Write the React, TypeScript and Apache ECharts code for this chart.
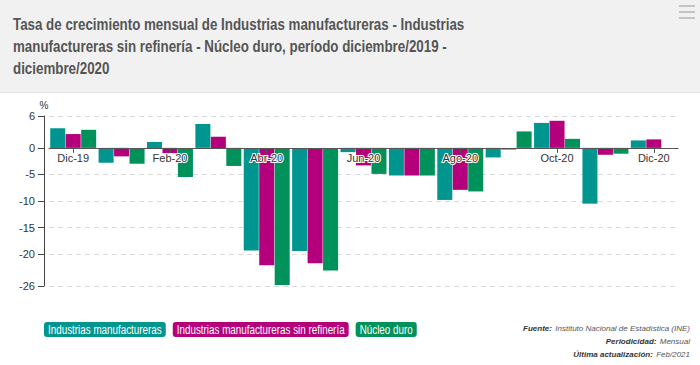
import React, { useEffect, useRef } from "react";
import * as echarts from "echarts";

const categories = ["Dic-19", "Ene-20", "Feb-20", "Mar-20", "Abr-20", "May-20", "Jun-20", "Jul-20", "Ago-20", "Sep-20", "Oct-20", "Nov-20", "Dic-20"];
const manufactureras = [3.7, -2.8, 1.1, 4.5, -19.3, -19.4, -0.8, -5.2, -9.8, -1.8, 4.7, -10.5, 1.4];
const sinRefineria = [2.6, -1.6, -1.0, 2.1, -22.1, -21.7, -3.3, -5.2, -7.9, -0.3, 5.1, -1.3, 1.6];
const nucleoDuro = [3.4, -3.0, -5.5, -3.4, -25.8, -23.1, -4.9, -5.2, -8.2, 3.1, 1.7, -1.1, null];
const yTicks = [6, 0, -5, -10, -15, -20, -26];

const seriesNames = ["Industrias manufactureras", "Industrias manufactureras sin refinería", "Núcleo duro"];
const colors = ["#00968F", "#B5007B", "#00925A"];

const titleLines = [
  "Tasa de crecimiento mensual de Industrias manufactureras - Industrias",
  "manufactureras sin refinería - Núcleo duro, período diciembre/2019 -",
  "diciembre/2020",
];

const footLabels = ["Fuente:", "Periodicidad:", "Última actualización:"];
const footValues = ["Instituto Nacional de Estadística (INE)", "Mensual", "Feb/2021"];

const SANS = '"Liberation Sans", Arial, sans-serif';
const NARROW_SCALE = 0.82;
const TITLE_SCALE = 0.835;

function measure(text: string, font: string): number {
  const c = document.createElement("canvas");
  const ctx = c.getContext("2d")!;
  ctx.font = font;
  return ctx.measureText(text).width;
}

export default function App() {
  const ref = useRef<HTMLDivElement>(null);
  useEffect(() => {
    document.body.style.margin = "0";
    const chart = echarts.init(ref.current!, undefined, { renderer: "svg" });
    const seriesData = [manufactureras, sinRefineria, nucleoDuro];

    const gridTop = 116;
    const gridBottom = 79;
    const gridHeight = 365 - gridTop - gridBottom;
    const yMin = -26;
    const yMax = 6;
    const zeroOffset = -(gridHeight * (0 - yMin)) / (yMax - yMin);

    const legendEls: any[] = [];
    let lx = 44;
    const ly = 322;
    seriesNames.forEach((n, i) => {
      const tw = measure(n, `12px "Liberation Sans"`) * NARROW_SCALE;
      const bw = tw + 8;
      legendEls.push({
        type: "rect",
        shape: { x: lx, y: ly, width: bw, height: 15, r: 3 },
        style: { fill: colors[i] },
      });
      legendEls.push({
        type: "text",
        x: lx + 4,
        y: ly + 8,
        scaleX: NARROW_SCALE,
        style: {
          text: n,
          fill: "#ffffff",
          fontFamily: SANS,
          fontSize: 12,
          verticalAlign: "middle",
          align: "left",
        },
      });
      lx += bw + 7;
    });

    const footEls = footLabels.map((lab, i) => ({
      type: "text",
      x: 690,
      y: 328 + i * 13,
      style: {
        text: `{b|${lab}} {n|${footValues[i]}}`,
        align: "right",
        verticalAlign: "middle",
        rich: {
          b: { fontFamily: SANS, fontSize: 8, fontStyle: "italic", fontWeight: "bold", fill: "#333" },
          n: { fontFamily: SANS, fontSize: 8, fontStyle: "italic", fill: "#555" },
        },
      },
    }));

    const titleEls = titleLines.map((t, i) => ({
      type: "text",
      x: 13,
      y: 25 + i * 22,
      scaleX: TITLE_SCALE,
      style: {
        text: t,
        fontFamily: SANS,
        fontSize: 16,
        fontWeight: "bold",
        fill: "#555555",
        verticalAlign: "middle",
        align: "left",
      },
    }));

    chart.setOption({
      animation: false,
      backgroundColor: "#ffffff",
      graphic: [
        {
          type: "rect",
          z: -10,
          silent: true,
          shape: { x: 0, y: 0, width: 700, height: 92 },
          style: { fill: "#f1f1f1" },
        },
        {
          type: "line",
          z: -9,
          silent: true,
          shape: { x1: 0, y1: 92.5, x2: 700, y2: 92.5 },
          style: { stroke: "#e2e2e2", lineWidth: 1 },
        },
        { type: "rect", shape: { x: 679, y: 5, width: 16, height: 2 }, style: { fill: "#c4c4c4" } },
        { type: "rect", shape: { x: 679, y: 11, width: 16, height: 2 }, style: { fill: "#c4c4c4" } },
        { type: "rect", shape: { x: 679, y: 17, width: 16, height: 2 }, style: { fill: "#c4c4c4" } },
        ...titleEls,
        ...legendEls,
        ...footEls,
      ],
      grid: { left: 49, right: 22, top: gridTop, bottom: gridBottom, containLabel: false },
      xAxis: {
        type: "category",
        data: categories,
        position: "bottom",
        offset: zeroOffset,
        axisLine: { onZero: false, lineStyle: { color: "#555555", width: 1 } },
        axisTick: { show: true, interval: 1, alignWithLabel: true, length: 5, lineStyle: { color: "#555555" } },
        axisLabel: {
          interval: 1,
          margin: 5,
          fontFamily: SANS,
          fontSize: 11,
          color: "#333333",
          textBorderColor: "#ffffff",
          textBorderWidth: 2,
        },
        splitLine: { show: false },
        z: 10,
      },
      yAxis: {
        type: "value",
        min: yMin,
        max: yMax,
        offset: 5,
        name: "%",
        nameLocation: "end",
        nameGap: 6,
        nameTextStyle: { fontFamily: SANS, fontSize: 10, color: "#333333", align: "center" },
        axisLine: { show: true, lineStyle: { color: "#444444" } },
        axisTick: { show: true, length: 6, customValues: yTicks, lineStyle: { color: "#444444" } },
        axisLabel: { customValues: yTicks, margin: 9, fontFamily: SANS, fontSize: 11, color: "#333333" },
        splitLine: { show: true, lineStyle: { color: "#d9d9d9", type: [5, 4] } },
      },
      series: seriesNames.map((n, i) => ({
        name: n,
        type: "bar",
        data: seriesData[i],
        barGap: "3%",
        barCategoryGap: "5%",
        itemStyle: { color: colors[i] },
      })),
    });
    return () => chart.dispose();
  }, []);
  return <div ref={ref} style={{ width: 700, height: 365 }} />;
}
